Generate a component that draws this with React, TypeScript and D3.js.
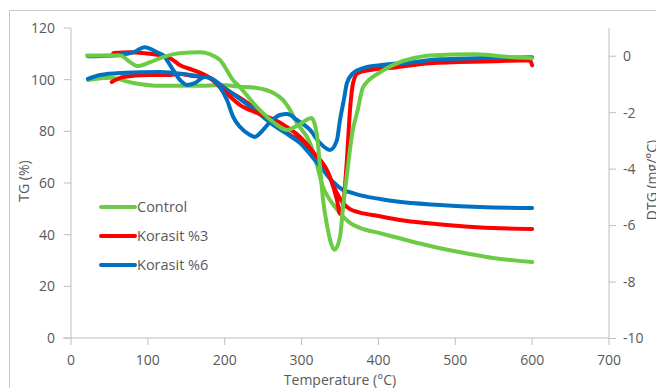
import React from "react";
import * as d3 from "d3";

// Temperature ticks and axis ticks
const xTicks = [0, 100, 200, 300, 400, 500, 600, 700];
const tgTicks = [0, 20, 40, 60, 80, 100, 120];
const dtgTicks = [-10, -8, -6, -4, -2, 0];

const seriesNames = ["Control", "Korasit %3", "Korasit %6"];
const seriesColors = ["#6CCB44", "#FF0000", "#0070C0"];

// TG (%) curves: [temperature, value]
const controlTG: [number, number][] = [
  [22, 99.9], [51, 100.7], [81, 98.7], [116, 97.6], [168, 97.6], [194, 97.9], [220, 97.3],
  [242, 96.8], [263, 94.9], [276, 92.1], [285, 88.3], [294, 83.2], [311, 75.5], [320, 67],
  [327, 59.2], [337, 53.4], [346, 49.8], [354, 47], [363, 44.6], [376, 42.6], [402, 40.6],
  [430, 38.4], [462, 36], [505, 33.3], [549, 31], [600, 29.4],
];
const korasit3TG: [number, number][] = [
  [53, 99.1], [68, 101], [99, 101.8], [125, 101.8], [142, 102.2], [159, 101.4], [177, 101],
  [198, 96.8], [220, 92.9], [242, 88.3], [263, 83.2], [285, 78.6], [298, 76.3], [315, 70.8],
  [337, 61.9], [346, 56.1], [354, 52.3], [363, 49.9], [375, 48.6], [400, 47.2], [430, 45.6],
  [462, 44.5], [505, 43.4], [549, 42.6], [600, 42.2],
];
const korasit6TG: [number, number][] = [
  [22, 100.3], [38, 101.8], [64, 102.6], [116, 103], [155, 101.8], [181, 100.7], [198, 97.2],
  [220, 92.5], [242, 87.5], [263, 82.5], [285, 78.2], [298, 75.5], [315, 69.7], [328, 65],
  [341, 60.4], [354, 57.3], [367, 56.1], [380, 55], [402, 53.8], [424, 52.8], [480, 51.5],
  [532, 50.7], [600, 50.3],
];

// DTG (mg/°C) curves: [temperature, value]
const controlDTG: [number, number][] = [
  [21, 0.03], [64, 0.03], [77, -0.21], [86, -0.35], [103, -0.21], [120, -0.03], [142, 0.11],
  [168, 0.14], [181, 0.07], [194, -0.14], [211, -0.85], [220, -1.1], [242, -1.8], [263, -2.33],
  [281, -2.61], [298, -2.4], [313, -2.19], [320, -2.79], [324, -3.92], [328, -5.09],
  [333, -5.97], [337, -6.5], [343, -6.86], [350, -6.4], [354, -5.34], [359, -4.2],
  [366, -2.72], [373, -1.91], [380, -1.1], [402, -0.57], [424, -0.25], [445, -0.07],
  [467, 0.03], [527, 0.07], [570, -0.03], [600, -0.07],
];
const korasit3DTG: [number, number][] = [
  [55, 0.11], [77, 0.14], [94, 0.11], [116, 0.03], [129, -0.07], [142, -0.32], [159, -0.49],
  [181, -0.78], [198, -1.2], [220, -1.73], [242, -2.01], [263, -2.23], [281, -2.51],
  [298, -2.86], [315, -3.39], [337, -4.28], [346, -5.09], [350, -5.58], [354, -5.26],
  [359, -3.67], [363, -1.91], [367, -0.95], [373, -0.6], [389, -0.49], [424, -0.39],
  [467, -0.25], [549, -0.18], [597, -0.14], [600, -0.32],
];
const korasit6DTG: [number, number][] = [
  [22, 0], [55, 0.03], [81, 0.14], [96, 0.32], [112, 0.14], [120, 0.03], [133, -0.49],
  [142, -0.85], [151, -1.02], [161, -0.95], [174, -0.74], [181, -0.78], [194, -1.1],
  [203, -1.55], [211, -2.15], [220, -2.51], [233, -2.79], [239, -2.86], [250, -2.61],
  [259, -2.33], [272, -2.08], [281, -2.05], [294, -2.26], [311, -2.61], [324, -3.08],
  [337, -3.32], [346, -2.97], [350, -2.26], [355, -1.55], [359, -0.95], [367, -0.6],
  [380, -0.42], [402, -0.32], [445, -0.21], [480, -0.11], [527, -0.07], [600, -0.04],
];

const FONT = "'Open Sans', 'Liberation Sans', sans-serif";
const TEXT = "#595959";
const AXIS = "#BFBFBF";

export default function App() {
  const x = d3.scaleLinear().domain([0, 700]).range([71, 609]);
  const yL = d3.scaleLinear().domain([0, 120]).range([338, 28]);
  const yR = d3.scaleLinear().domain([-10, 1]).range([338.5, 28]);

  const lineL = d3
    .line<[number, number]>()
    .x((d) => x(d[0]))
    .y((d) => yL(d[1]))
    .curve(d3.curveMonotoneX);
  const lineR = d3
    .line<[number, number]>()
    .x((d) => x(d[0]))
    .y((d) => yR(d[1]))
    .curve(d3.curveMonotoneX);

  const tgSeries = [controlTG, korasit3TG, korasit6TG];
  const dtgOrder = [1, 2, 0];
  const dtgSeries = [controlDTG, korasit3DTG, korasit6DTG];

  const legendY = [207, 236, 265];

  return (
    <svg
      width={656}
      height={388}
      style={{ position: "fixed", left: 0, top: 0, background: "#fff" }}
      fontFamily={FONT}
    >
      <rect x={0} y={0} width={656} height={388} fill="#fff" />
      <rect x={9.5} y={10.5} width={700} height={400} fill="none" stroke="#C8C8C8" strokeWidth={1} />

      {/* axes */}
      <line x1={71} x2={71} y1={yL(120)} y2={338} stroke={AXIS} />
      <line x1={609} x2={609} y1={yR(1)} y2={338} stroke={AXIS} />
      <line x1={63} x2={609} y1={338} y2={338} stroke={AXIS} />

      {tgTicks.map((t) => (
        <g key={"l" + t}>
          <line x1={64} x2={71} y1={yL(t)} y2={yL(t)} stroke={AXIS} />
          <text x={55} y={yL(t)} dy="0.35em" textAnchor="end" fontSize={14} fill={TEXT}>
            {t}
          </text>
        </g>
      ))}
      {dtgTicks.map((t) => (
        <g key={"r" + t}>
          <line x1={609} x2={616} y1={yR(t)} y2={yR(t)} stroke={AXIS} />
          <text x={623} y={yR(t)} dy="0.35em" textAnchor="start" fontSize={14} fill={TEXT}>
            {t}
          </text>
        </g>
      ))}
      {xTicks.map((t) => (
        <g key={"x" + t}>
          <line x1={x(t)} x2={x(t)} y1={338} y2={345} stroke={AXIS} />
          <text x={x(t)} y={360} dy="0.35em" textAnchor="middle" fontSize={14} fill={TEXT}>
            {t}
          </text>
        </g>
      ))}

      {/* axis titles */}
      <text x={340} y={380} dy="0.35em" textAnchor="middle" fontSize={14} fill={TEXT}>
        Temperature (°C)
      </text>
      <text
        transform="translate(24,181) rotate(-90)"
        textAnchor="middle"
        dy="0.35em"
        fontSize={14}
        fill={TEXT}
      >
        TG (%)
      </text>
      <text
        transform="translate(652,180) rotate(-90)"
        textAnchor="middle"
        dy="0.35em"
        fontSize={14}
        fill={TEXT}
      >
        DTG (mg/°C)
      </text>

      {/* TG lines */}
      {tgSeries.map((s, i) => (
        <path
          key={"tg" + i}
          d={lineL(s) || ""}
          fill="none"
          stroke={seriesColors[i]}
          strokeWidth={4}
          strokeLinejoin="round"
          strokeLinecap="round"
        />
      ))}
      {/* DTG lines */}
      {dtgOrder.map((i) => (
        <path
          key={"dtg" + i}
          d={lineR(dtgSeries[i]) || ""}
          fill="none"
          stroke={seriesColors[i]}
          strokeWidth={4}
          strokeLinejoin="round"
          strokeLinecap="round"
        />
      ))}

      {/* legend */}
      {seriesNames.map((n, i) => (
        <g key={"lg" + i}>
          <line
            x1={101}
            x2={135}
            y1={legendY[i]}
            y2={legendY[i]}
            stroke={seriesColors[i]}
            strokeWidth={4}
            strokeLinecap="round"
          />
          <text x={137} y={legendY[i]} dy="0.35em" fontSize={14.5} fill={TEXT}>
            {n}
          </text>
        </g>
      ))}
    </svg>
  );
}
